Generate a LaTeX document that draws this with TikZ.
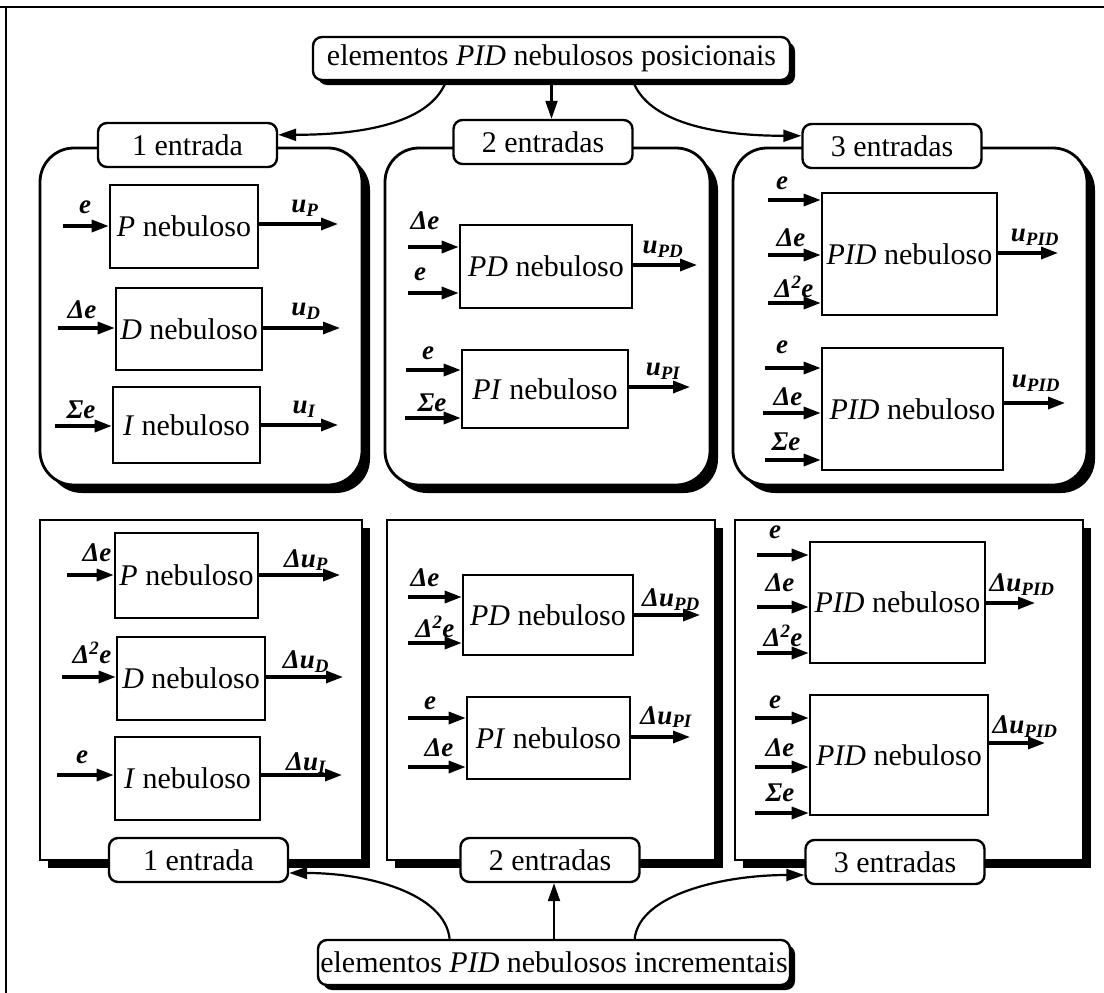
\documentclass[tikz,border=0pt]{standalone}
\usepackage{fontspec}
\setmainfont{Liberation Serif}
\usetikzlibrary{arrows.meta,shadows,calc}

% block: name, x1, y1, x2, y2, text
\newcommand\blk[6]{\node[blk, minimum width={#4-#2}, minimum height={#5-#3}] (#1) at ({(#2+#4)/2},{(#3+#5)/2}) {#6};}
% input signal: block, id, start x, y
\newcommand\sigin[4]{\coordinate (#1-#2) at (#3,#4); \draw[sig] (#1-#2) -- (#1.west |- #1-#2);}
% output signal: block, id, end x, y
\newcommand\sigout[4]{\coordinate (#1-#2) at (#3,#4); \draw[sig] (#1.east |- #1-#2) -- (#1-#2);}
\newcommand\dd{Δ\textsuperscript{2}}
\newcommand\sub[1]{\textsubscript{#1}}

\tikzset{
  every node/.style={font=\fontsize{30}{34}\selectfont},
  hdr/.style={draw, line width=2.4pt, rounded corners=9pt, fill=white, inner sep=0pt,
    general shadow={fill=black, shadow xshift=5pt, shadow yshift=-5pt}},
  tag/.style={draw, line width=2.4pt, rounded corners=9pt, fill=white,
    minimum width=179pt, minimum height=44pt, inner sep=0pt},
  rpanel/.style={draw, line width=2.8pt, rounded corners=34pt, fill=white, inner sep=0pt,
    general shadow={fill=black, shadow xshift=8pt, shadow yshift=-8pt}},
  spanel/.style={draw, line width=2.8pt, fill=white, inner sep=0pt,
    general shadow={fill=black, shadow xshift=8pt, shadow yshift=-8pt}},
  blk/.style={draw, line width=2.6pt, fill=white, inner sep=0pt},
  sig/.style={line width=3.2pt, -{Triangle[length=17pt,width=12pt]}},
  conn/.style={line width=2.2pt, -{Triangle[length=18pt,width=12pt]}},
  lab/.style={font=\fontsize{27}{29}\selectfont\bfseries\itshape, inner sep=0pt},
}

\begin{document}
\begin{tikzpicture}[x=1pt,y=-1pt]
\useasboundingbox (0,0) rectangle (1104,993);

% page frame (top and left rules)
\draw[line width=2.2pt] (0,7) -- (1104,7);
\draw[line width=2.2pt] (6,7) -- (6,993);

% ---------- panels ----------
\node[rpanel, minimum width=322, minimum height=337] (pan1) at (201,316.5) {};
\node[rpanel, minimum width=325, minimum height=337] (pan2) at (547.5,316.5) {};
\node[rpanel, minimum width=354, minimum height=337] (pan3) at (910,316.5) {};
\node[spanel, minimum width=322, minimum height=340] (pan4) at (201,690) {};
\node[spanel, minimum width=328, minimum height=340] (pan5) at (551,690) {};
\node[spanel, minimum width=348, minimum height=340] (pan6) at (909,690) {};

% ---------- headers and tags ----------
\node[hdr, minimum width=477, minimum height=43] (tpos) at (551.5,58.5)
  {elementos \textit{PID} nebulosos posicionais};
\node[hdr, minimum width=472, minimum height=45] (tinc) at (554,962.5)
  {elementos \textit{PID} nebulosos incrementais};

\node[tag] (lab1t) at (187.5,145) {1 entrada};
\node[tag] (lab2t) at (543,142) {2 entradas};
\node[tag] (lab3t) at (892,146) {3 entradas};
\node[tag] (lab1b) at (198.5,860) {1 entrada};
\node[tag] (lab2b) at (550,860) {2 entradas};
\node[tag] (lab3b) at (895,862) {3 entradas};

% ---------- connectors from headers ----------
\draw[conn] ($(tpos.south west)!0.28!(tpos.south east)$) .. controls +(-15,40) and +(90,0) ..
  ($(lab1t.north east)!0.28!(lab1t.south east)$);
\draw[conn] (tpos.south) -- (tpos.south |- lab2t.north);
\draw[conn] ($(tpos.south west)!0.67!(tpos.south east)$) .. controls +(15,40) and +(-90,0) ..
  ($(lab3t.north west)!0.28!(lab3t.south west)$);

\draw[conn] ($(tinc.north west)!0.28!(tinc.north east)$) .. controls +(-5,-45) and +(80,0) ..
  ($(lab1b.north east)!0.78!(lab1b.south east)$);
\draw[conn] (tinc.north) -- (tinc.north |- lab2b.south);
\draw[conn] ($(tinc.north west)!0.67!(tinc.north east)$) .. controls +(5,-45) and +(-80,0) ..
  ($(lab3b.north west)!0.78!(lab3b.south west)$);

% ---------- positional, 1 input ----------
\blk{bP}{110}{185}{258}{268}{\textit{P} nebuloso}
\sigin{bP}{i1}{63}{226} \sigout{bP}{o}{338}{224}
\node[lab] (bP-l1) at (85,207) {e};
\node[lab] (bP-lo) at (305,208) {u\sub{P}};

\blk{bD}{116}{288}{262}{370}{\textit{D} nebuloso}
\sigin{bD}{i1}{58}{328} \sigout{bD}{o}{340}{328}
\node[lab] (bD-l1) at (82,310) {Δe};
\node[lab] (bD-lo) at (306,311) {u\sub{D}};

\blk{bI}{113}{387}{260}{463}{\textit{I} nebuloso}
\sigin{bI}{i1}{55}{426} \sigout{bI}{o}{338}{425}
\node[lab] (bI-l1) at (81,410) {Σe};
\node[lab] (bI-lo) at (304,409) {u\sub{I}};

% ---------- positional, 2 inputs ----------
\blk{bPD}{460}{225}{632}{308}{\textit{PD} nebuloso}
\sigin{bPD}{i1}{408}{247} \sigin{bPD}{i2}{408}{293} \sigout{bPD}{o}{697}{265}
\node[lab] (bPD-l1) at (425,221) {Δe};
\node[lab] (bPD-l2) at (420,274) {e};
\node[lab] (bPD-lo) at (663,249) {u\sub{PD}};

\blk{bPI}{462}{350}{628}{428}{\textit{PI} nebuloso}
\sigin{bPI}{i1}{406}{370} \sigin{bPI}{i2}{405}{418} \sigout{bPI}{o}{690}{387}
\node[lab] (bPI-l1) at (428,353) {e};
\node[lab] (bPI-l2) at (432,403) {Σe};
\node[lab] (bPI-lo) at (663,371) {u\sub{PI}};

% ---------- positional, 3 inputs ----------
\blk{bPIDa}{822}{193}{997}{315}{\textit{PID} nebuloso}
\sigin{bPIDa}{i1}{768}{200} \sigin{bPIDa}{i2}{768}{255} \sigin{bPIDa}{i3}{768}{303}
\sigout{bPIDa}{o}{1058}{253}
\node[lab] (bPIDa-l1) at (782,183) {e};
\node[lab] (bPIDa-l2) at (791,238) {Δe};
\node[lab] (bPIDa-l3) at (794,287) {\dd e};
\node[lab] (bPIDa-lo) at (1035,237) {u\sub{PID}};

\blk{bPIDb}{822}{348}{1003}{470}{\textit{PID} nebuloso}
\sigin{bPIDb}{i1}{765}{368} \sigin{bPIDb}{i2}{763}{413} \sigin{bPIDb}{i3}{765}{460}
\sigout{bPIDb}{o}{1065}{403}
\node[lab] (bPIDb-l1) at (782,347) {e};
\node[lab] (bPIDb-l2) at (788,397) {Δe};
\node[lab] (bPIDb-l3) at (786,442) {Σe};
\node[lab] (bPIDb-lo) at (1036,383) {u\sub{PID}};

% ---------- incremental, 1 input ----------
\blk{cP}{115}{533}{258}{618}{\textit{P} nebuloso}
\sigin{cP}{i1}{67}{575} \sigout{cP}{o}{340}{575}
\node[lab] (cP-l1) at (97,553) {Δe};
\node[lab] (cP-lo) at (306,560) {Δu\sub{P}};

\blk{cD}{117}{637}{265}{720}{\textit{D} nebuloso}
\sigin{cD}{i1}{62}{677} \sigout{cD}{o}{343}{677}
\node[lab] (cD-l1) at (92,653) {\dd e};
\node[lab] (cD-lo) at (306,662) {Δu\sub{D}};

\blk{cI}{115}{737}{260}{820}{\textit{I} nebuloso}
\sigin{cI}{i1}{57}{775} \sigout{cI}{o}{342}{775}
\node[lab] (cI-l1) at (82,757) {e};
\node[lab] (cI-lo) at (306,763) {Δu\sub{I}};

% ---------- incremental, 2 inputs ----------
\blk{cPD}{463}{575}{633}{655}{\textit{PD} nebuloso}
\sigin{cPD}{i1}{408}{597} \sigin{cPD}{i2}{408}{643} \sigout{cPD}{o}{700}{615}
\node[lab] (cPD-l1) at (425,578) {Δe};
\node[lab] (cPD-l2) at (435,627) {\dd e};
\node[lab] (cPD-lo) at (671,600) {Δu\sub{PD}};

\blk{cPI}{467}{697}{630}{779}{\textit{PI} nebuloso}
\sigin{cPI}{i1}{408}{718} \sigin{cPI}{i2}{408}{767} \sigout{cPI}{o}{690}{737}
\node[lab] (cPI-l1) at (430,703) {e};
\node[lab] (cPI-l2) at (439,748) {Δe};
\node[lab] (cPI-lo) at (666,717) {Δu\sub{PI}};

% ---------- incremental, 3 inputs ----------
\blk{cPIDa}{810}{542}{985}{663}{\textit{PID} nebuloso}
\sigin{cPIDa}{i1}{757}{555} \sigin{cPIDa}{i2}{757}{607} \sigin{cPIDa}{i3}{757}{653}
\sigout{cPIDa}{o}{1035}{603}
\node[lab] (cPIDa-l1) at (775,532) {e};
\node[lab] (cPIDa-l2) at (780,583) {Δe};
\node[lab] (cPIDa-l3) at (783,636) {\dd e};
\node[lab] (cPIDa-lo) at (1022,585) {Δu\sub{PID}};

\blk{cPIDb}{810}{695}{988}{815}{\textit{PID} nebuloso}
\sigin{cPIDb}{i1}{755}{718} \sigin{cPIDb}{i2}{755}{767} \sigin{cPIDb}{i3}{755}{813}
\sigout{cPIDb}{o}{1045}{743}
\node[lab] (cPIDb-l1) at (775,702) {e};
\node[lab] (cPIDb-l2) at (780,748) {Δe};
\node[lab] (cPIDb-l3) at (780,793) {Σe};
\node[lab] (cPIDb-lo) at (1025,727) {Δu\sub{PID}};

\end{tikzpicture}
\end{document}
